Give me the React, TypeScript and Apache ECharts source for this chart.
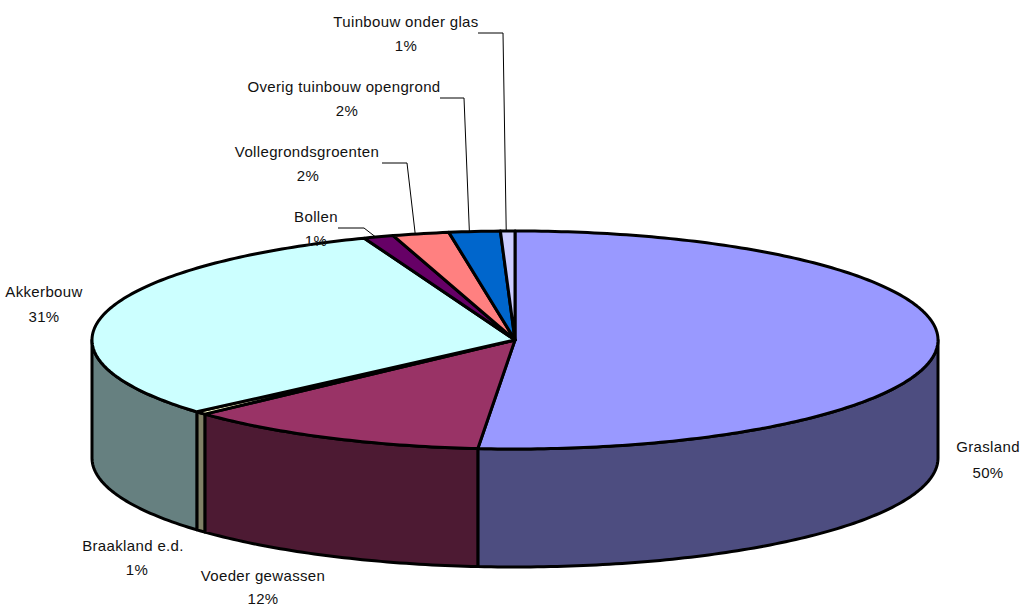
import React, { useEffect, useRef } from "react";
import * as echarts from "echarts";

// Data
const categories = ["Grasland", "Voeder gewassen", "Braakland e.d.", "Akkerbouw", "Bollen", "Vollegrondsgroenten", "Overig tuinbouw opengrond", "Tuinbouw onder glas"];
const shares = [51.4, 11.7, 0.45, 30.65, 1.15, 2.15, 1.95, 0.55];
const percentLabels = ["50%", "12%", "1%", "31%", "1%", "2%", "2%", "1%"];
const topColors = ["#9999FF", "#993366", "#FFFFCC", "#CCFFFF", "#660066", "#FF8080", "#0066CC", "#CCCCFF"];
const sideColors = ["#4D4D80", "#4D1A33", "#808066", "#668080", "#330033", "#804040", "#003366", "#666680"];

// Layout
const CX = 515, CY = 340, RX = 423, RY = 109, DEPTH = 118;
const labelPos: number[][] = [
  [988, 446, 988, 472],
  [263, 575, 263, 598],
  [133, 545, 137, 569],
  [44, 291, 44, 316],
  [316, 216, 316, 240],
  [307, 151, 308, 175],
  [344, 86, 347, 110],
  [406, 21, 406, 45],
];
// label-side start and elbow of each leader; its end follows the slice's angle
const leaders: (number[] | null)[] = [
  null, null, null, null,
  [338, 228, 364, 228],
  [382, 163, 407, 163],
  [440, 98, 464, 98],
  [478, 33, 503, 33],
];

const pt = (pct: number, dy = 0): number[] => {
  const t = (pct / 100) * Math.PI * 2;
  return [CX + RX * Math.sin(t), CY - RY * Math.cos(t) + dy];
};
const arc = (from: number, to: number, dy = 0): number[][] => {
  const n = Math.max(2, Math.ceil((to - from) * 4));
  const out: number[][] = [];
  for (let i = 0; i <= n; i++) out.push(pt(from + ((to - from) * i) / n, dy));
  return out;
};
const starts: number[] = [];
shares.reduce((sum, s, i) => { starts[i] = sum; return sum + s; }, 0);
const rows = shares.map((s, i) => [i, starts[i], s]);
const stroke = { stroke: "#000", lineWidth: 3, lineJoin: "round" as const };

function App() {
  const ref = useRef<HTMLDivElement>(null);
  useEffect(() => {
    document.body.style.margin = "0";
    const chart = echarts.init(ref.current!, null, { renderer: "svg" });
    chart.setOption({
      animation: false,
      backgroundColor: "#fff",
      series: [
        {
          type: "custom", coordinateSystem: "none", data: rows, z: 1,
          renderItem: (_p: any, api: any) => {
            const i = api.value(0), a = api.value(1), b = a + api.value(2);
            const from = Math.max(a, 25), to = Math.min(b, 75);
            if (to <= from) return { type: "group", children: [] };
            const top = arc(from, to), bottom = arc(from, to, DEPTH).reverse();
            return { type: "polygon", shape: { points: [...top, ...bottom] }, style: { fill: sideColors[i], ...stroke } };
          },
        },
        {
          type: "custom", coordinateSystem: "none", data: rows, z: 2,
          renderItem: (_p: any, api: any) => {
            const i = api.value(0), a = api.value(1), b = a + api.value(2);
            return { type: "polygon", shape: { points: [[CX, CY], ...arc(a, b)] }, style: { fill: topColors[i], ...stroke } };
          },
        },
        {
          type: "custom", coordinateSystem: "none", data: rows, z: 3,
          renderItem: (_p: any, api: any) => {
            const i = api.value(0), end = api.value(1) + api.value(2) * 0.4;
            const [x1, y1, x2, y2] = labelPos[i];
            const font = "15px 'Liberation Sans', Arial, sans-serif";
            const children: any[] = [
              { type: "text", style: { text: categories[i], x: x1, y: y1, align: "center", verticalAlign: "middle", font, fill: "#111" } },
              { type: "text", style: { text: percentLabels[i], x: x2, y: y2, align: "center", verticalAlign: "middle", font, fill: "#111" } },
            ];
            const l = leaders[i];
            if (l) {
              children.push({
                type: "polyline",
                shape: { points: [[l[0], l[1]], [l[2], l[3]], pt(end)] },
                style: { stroke: "#000", lineWidth: 1, fill: "none" },
              });
            }
            return { type: "group", children };
          },
        },
      ],
    });
    return () => chart.dispose();
  }, []);
  return <div ref={ref} style={{ position: "absolute", left: 0, top: 0, width: 1021, height: 606, letterSpacing: "0.35px" }} />;
}

export default App;
